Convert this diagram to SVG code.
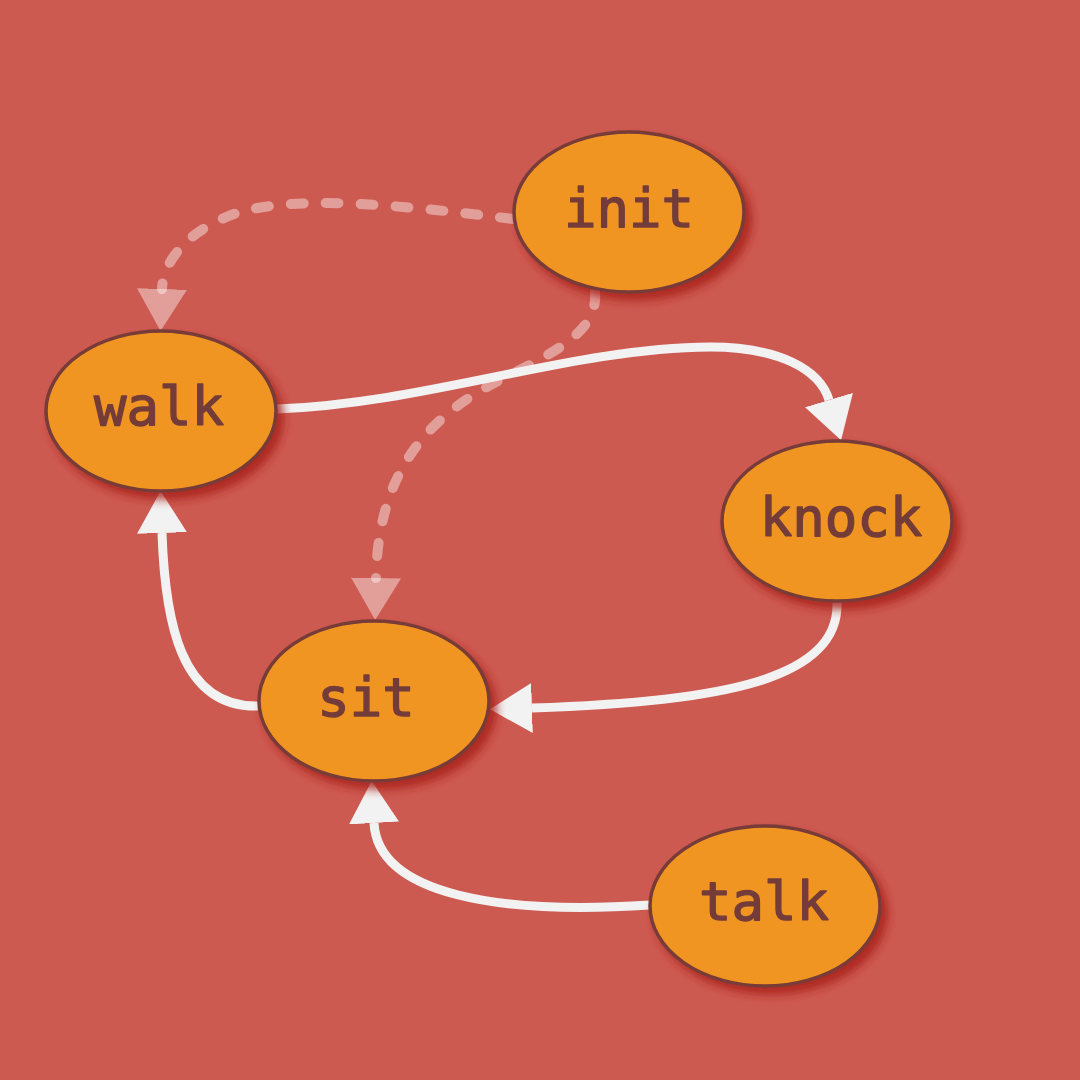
<svg xmlns="http://www.w3.org/2000/svg" width="1080" height="1080" viewBox="0 0 1080 1080">
<style>
.node ellipse{fill:#f09422;stroke:#773b38;stroke-width:3.5;filter:url(#sh)}
.node text{font-family:"DejaVu Sans Mono","Liberation Mono",monospace;font-size:54px;fill:#743c39;stroke:#743c39;stroke-width:1.4;stroke-linejoin:round;text-anchor:middle}
.edge{fill:none;stroke:#f2f2f2;stroke-width:9}
.dash{fill:none;stroke:#ffffff;stroke-opacity:0.42;stroke-width:10;stroke-linecap:round;stroke-dasharray:13 22}
</style>
<defs>
<filter id="sh" x="-20%" y="-20%" width="150%" height="150%">
<feDropShadow dx="6" dy="7" stdDeviation="5" flood-color="#a81e16" flood-opacity="0.85"/>
</filter>
<marker id="ah" markerUnits="userSpaceOnUse" viewBox="0 0 42 50" refX="0" refY="25" markerWidth="42" markerHeight="50" orient="auto">
<path d="M0,0 L42,25 L0,50 Z" fill="#f2f2f2"/>
</marker>
<marker id="ahd" markerUnits="userSpaceOnUse" viewBox="0 0 42 50" refX="0" refY="25" markerWidth="42" markerHeight="50" orient="auto">
<path d="M0,0 L42,25 L0,50 Z" fill="#ffffff" fill-opacity="0.42"/>
</marker>
</defs>
<rect width="1080" height="1080" fill="#cd5a51"/>
<g id="connectors">
<path class="dash" marker-end="url(#ahd)" d="M513,219 C 400,205 300,195 240,212 C 190,228 163,260 162,289"/>
<path class="dash" marker-end="url(#ahd)" d="M595,292 C 598,330 560,350 500,380 C 420,420 378,480 376,578"/>
<path class="edge" marker-end="url(#ah)" d="M277,409 C 430,403 570,348 710,347 C 780,347 820,370 829,400"/>
<path class="edge" marker-end="url(#ah)" d="M837,602 C 840,680 720,702 532,708"/>
<path class="edge" marker-end="url(#ah)" d="M258,706 C 180,708 165,620 162,533"/>
<path class="edge" marker-end="url(#ah)" d="M650,905 C 500,915 378,895 374,823"/>
</g>
<g id="init" class="node"><ellipse cx="629" cy="212" rx="115" ry="80"/><text x="629" y="227">init</text></g>
<g id="walk" class="node"><ellipse cx="161" cy="411" rx="115" ry="80"/><text x="159" y="425">walk</text></g>
<g id="knock" class="node"><ellipse cx="837" cy="521" rx="115" ry="80"/><text x="841" y="536">knock</text></g>
<g id="sit" class="node"><ellipse cx="374" cy="701" rx="115" ry="80"/><text x="366" y="716">sit</text></g>
<g id="talk" class="node"><ellipse cx="765" cy="906" rx="115" ry="80"/><text x="764" y="920">talk</text></g>
</svg>
